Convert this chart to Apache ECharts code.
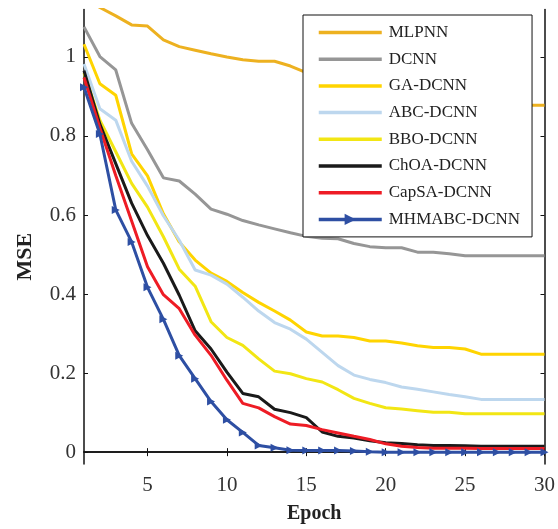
<!DOCTYPE html>
<html>
<head>
<meta charset="utf-8">
<script src="https://cdn.jsdelivr.net/npm/echarts@6/dist/echarts.min.js"></script>
<style>
html,body{margin:0;padding:0;background:#fff;}
#chart{width:558px;height:529px;}
</style>
</head>
<body>
<div id="chart"></div>
<script>
const epochs = [1,2,3,4,5,6,7,8,9,10,11,12,13,14,15,16,17,18,19,20,21,22,23,24,25,26,27,28,29,30];
const xTicks = [5,10,15,20,25,30];
const yTicks = [0,0.2,0.4,0.6,0.8,1];
const seriesNames = ['MLPNN','DCNN','GA-DCNN','ABC-DCNN','BBO-DCNN','ChOA-DCNN','CapSA-DCNN','MHMABC-DCNN'];
const mlpnn = [1.15,1.125,1.104,1.081,1.078,1.043,1.026,1.017,1.008,1.0,0.993,0.989,0.989,0.977,0.96,0.948,0.94,0.932,0.925,0.918,0.912,0.906,0.9,0.895,0.89,0.886,0.882,0.879,0.878,0.878];
const dcnn = [1.076,1.001,0.967,0.832,0.765,0.694,0.686,0.653,0.615,0.602,0.586,0.575,0.565,0.555,0.546,0.541,0.54,0.528,0.52,0.517,0.517,0.506,0.506,0.502,0.497,0.497,0.497,0.497,0.497,0.497];
const gaDcnn = [1.032,0.932,0.903,0.755,0.699,0.603,0.532,0.486,0.453,0.432,0.404,0.379,0.357,0.334,0.304,0.294,0.294,0.29,0.281,0.281,0.276,0.269,0.265,0.265,0.261,0.248,0.248,0.248,0.248,0.248];
const abcDcnn = [0.982,0.869,0.84,0.736,0.673,0.598,0.536,0.461,0.448,0.425,0.392,0.357,0.328,0.311,0.286,0.2525,0.219,0.195,0.184,0.176,0.165,0.159,0.1525,0.146,0.14,0.1335,0.1335,0.1335,0.1335,0.1335];
const bboDcnn = [0.96,0.84,0.76,0.68,0.62,0.545,0.463,0.42,0.33,0.29,0.27,0.236,0.205,0.1985,0.186,0.1775,0.158,0.136,0.1235,0.1125,0.109,0.105,0.101,0.101,0.097,0.097,0.097,0.097,0.097,0.097];
const choaDcnn = [0.965,0.83,0.73,0.63,0.548,0.478,0.397,0.307,0.261,0.2025,0.1485,0.14,0.1085,0.1,0.0875,0.051,0.04,0.036,0.029,0.0235,0.022,0.019,0.017,0.017,0.016,0.015,0.015,0.015,0.015,0.015];
const capsaDcnn = [0.948,0.82,0.70,0.585,0.469,0.3985,0.363,0.296,0.245,0.182,0.1235,0.112,0.09,0.071,0.0675,0.057,0.0485,0.04,0.032,0.021,0.015,0.012,0.01,0.01,0.01,0.009,0.009,0.009,0.009,0.009];
const mhmabcDcnn = [0.923,0.805,0.613,0.532,0.417,0.336,0.244,0.186,0.128,0.082,0.05,0.017,0.011,0.005,0.004,0.004,0.004,0.003,0.001,0,0,0,0,0,0,0,0,0,0,0];

const allValues = [mlpnn,dcnn,gaDcnn,abcDcnn,bboDcnn,choaDcnn,capsaDcnn,mhmabcDcnn];
const colors = ['#EDB120','#969696','#FFD400','#BDD7EE','#F2E614','#1A1A1A','#EE1C25','#2E4FA3'];
const markedIndex = 7;

const serif = 'Liberation Serif';
const chart = echarts.init(document.getElementById('chart'), null, {renderer:'canvas'});

const series = seriesNames.map((name,i)=>{
  const isMarked = i === markedIndex;
  return {
    name: name,
    type: 'line',
    data: epochs.map((e,k)=>[e, allValues[i][k]]),
    clip: true,
    showSymbol: isMarked,
    symbol: isMarked ? 'triangle' : 'none',
    symbolRotate: -90,
    symbolSize: 8,
    itemStyle: {color: colors[i]},
    lineStyle: {color: colors[i], width: 3},
    emphasis: {disabled: true},
    animation: false,
    z: 2 + i*0.01
  };
});

const legendData = seriesNames.map((name,i)=> i === markedIndex
  ? {name: name}
  : {name: name, itemStyle: {opacity: 0}});

const axisLineStyle = {show:true, lineStyle:{color:'#111', width:1.5}};
const tickStyle = (vals)=>({show:true, inside:true, length:4, customValues: vals, lineStyle:{color:'#111', width:1}});

chart.setOption({
  animation: false,
  backgroundColor: '#fff',
  grid: {left:84, right:13, top:9.5, bottom:59, containLabel:false},
  legend: {
    data: legendData,
    orient: 'vertical',
    left: 303,
    top: 15,
    padding: [9, 12, 9, 14],
    itemWidth: 63,
    itemHeight: 14,
    itemGap: 9.7,
    backgroundColor: '#fff',
    borderColor: '#111',
    borderWidth: 1,
    lineStyle: {width: 3.5},
    textStyle: {fontFamily: serif, fontSize: 17, color: '#222', padding:[0,0,0,2]},
    selectedMode: false,
    z: 10
  },
  xAxis: [{
    type: 'value', min: 1, max: 30, position: 'bottom',
    name: 'Epoch', nameLocation: 'middle', nameGap: 40,
    nameTextStyle: {fontFamily: serif, fontSize: 20, fontWeight: 'bold', color: '#222'},
    axisLine: axisLineStyle,
    axisTick: tickStyle(xTicks),
    axisLabel: {customValues: xTicks, fontFamily: serif, fontSize: 21, color: '#333', margin: 11},
    splitLine: {show:false}
  },{
    type: 'value', min: 1, max: 30, position: 'top',
    axisLine: axisLineStyle,
    axisTick: tickStyle(xTicks),
    axisLabel: {show:false},
    splitLine: {show:false}
  }],
  yAxis: [{
    type: 'value', min: -0.03, max: 1.12, position: 'left',
    name: 'MSE', nameLocation: 'middle', nameGap: 48, nameRotate: 90,
    nameTextStyle: {fontFamily: serif, fontSize: 22, fontWeight: 'bold', color: '#222', padding: [0, 40, 0, 0]},
    axisLine: axisLineStyle,
    axisTick: tickStyle(yTicks),
    axisLabel: {customValues: yTicks, fontFamily: serif, fontSize: 21, color: '#333', margin: 8},
    splitLine: {show:false}
  },{
    type: 'value', min: -0.03, max: 1.12, position: 'right',
    axisLine: axisLineStyle,
    axisTick: tickStyle(yTicks),
    axisLabel: {show:false},
    splitLine: {show:false}
  }],
  series: series
});
</script>
</body>
</html>
